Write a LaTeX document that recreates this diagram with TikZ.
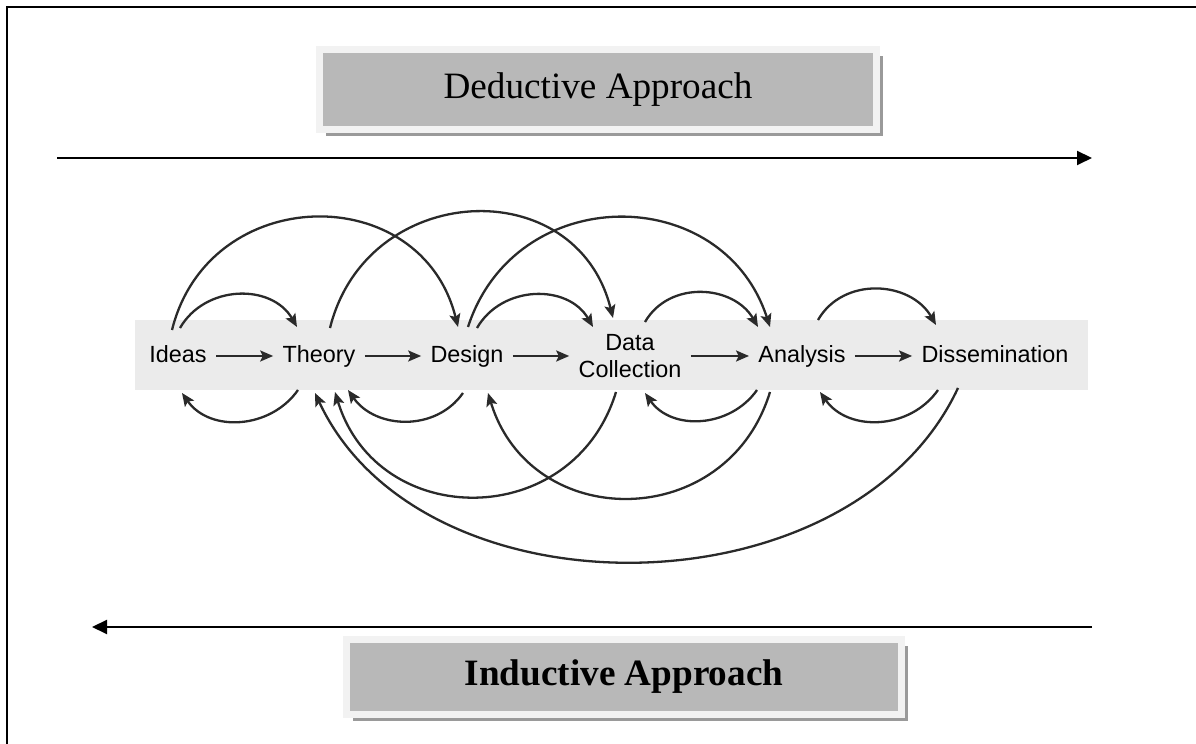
\documentclass[tikz,border=0pt]{standalone}
\usepackage{fontspec}
\setmainfont{Liberation Serif}
\newfontfamily\stagefont{Liberation Sans}
\usetikzlibrary{arrows.meta,shadows}
\definecolor{bandgray}{HTML}{EBEBEB}
\definecolor{boxgray}{HTML}{B8B8B8}
\definecolor{boxrim}{HTML}{F2F2F2}
\definecolor{boxshadow}{HTML}{9A9A9A}
\definecolor{arcgray}{HTML}{2A2A2A}

\begin{document}
\begin{tikzpicture}[x=0.5pt,y=0.5pt,
  stage/.style={font=\stagefont\fontsize{11.7}{13.5}\selectfont, text height=8.5pt, text depth=2.4pt, inner xsep=4.5pt, inner ysep=0pt},
  stagetwo/.style={font=\stagefont\fontsize{11.7}{13.5}\selectfont, align=center, inner xsep=4.5pt, inner ysep=0pt},
  approach/.style={fill=boxgray, draw=boxrim, line width=3.5pt, minimum width=278.5pt, minimum height=40pt, inner sep=0pt,
    font=\fontsize{18.6}{22}\selectfont, drop shadow={shadow xshift=3.3pt, shadow yshift=-3.3pt, fill=boxshadow, opacity=1}},
  link/.style={arcgray, line width=1.15pt, -{Stealth[length=6.5pt,width=5.5pt,inset=1.3pt]}},
  wide/.style={line width=1pt, -{Triangle[length=7.5pt,width=7pt]}}]
	\useasboundingbox (0,0) rectangle (1196,744);
	\draw[line width=1pt] (7,0) |- (1196,737);

	\node[approach] (deduct) at (598,654.5) {Deductive Approach};
	\node[approach, minimum width=277.5pt, minimum height=37.5pt,
		font=\bfseries\fontsize{18.6}{22}\selectfont] (induct) at (624,67) {Inductive Approach};

	\coordinate (dleft) at (57,586);
	\coordinate (dright) at (1092,586);
	\draw[wide] (dleft) -- (dright);
	\coordinate (iright) at (1092,117);
	\coordinate (ileft) at (92,117);
	\draw[wide] (iright) -- (ileft);

	\fill[bandgray] (135,354) rectangle (1088,424);

	\node[stage] (ideas) at (178,388) {Ideas};
	\node[stage] (theory) at (319,388) {Theory};
	\node[stage] (design) at (467,388) {Design};
	\node[stagetwo] (datacoll) at (630,388) {Data\\Collection};
	\node[stage] (analysis) at (802,388) {Analysis};
	\node[stage] (dissem) at (995,388) {Dissemination};

	\draw[link] (ideas) -- (theory);
	\draw[link] (theory) -- (design);
	\draw[link] (design) -- (datacoll);
	\draw[link] (datacoll) -- (analysis);
	\draw[link] (analysis) -- (dissem);

	\draw[link] ([shift={(2,28)}]ideas.center) to[out=60,in=120,looseness=1.1] ([shift={(-22,29)}]theory.center);
	\draw[link] ([shift={(-6,26)}]ideas.center) to[out=76,in=104,looseness=1.36] ([shift={(-9,29)}]design.center);
	\draw[link] ([shift={(11,28)}]theory.center) to[out=76,in=104,looseness=1.37] ([shift={(-17,38)}]datacoll.center);
	\draw[link] ([shift={(1,29)}]design.center) to[out=72,in=108,looseness=1.3] ([shift={(-32,29)}]analysis.center);
	\draw[link] ([shift={(10,28)}]design.center) to[out=60,in=120,looseness=1.1] ([shift={(-37,29)}]datacoll.center);
	\draw[link] ([shift={(15,34)}]datacoll.center) to[out=60,in=120,looseness=1.1] ([shift={(-44,29)}]analysis.center);
	\draw[link] ([shift={(16,36)}]analysis.center) to[out=60,in=120,looseness=1.1] ([shift={(-59,31)}]dissem.center);

	\draw[link] ([shift={(-21,-34)}]theory.center) to[out=235,in=305,looseness=1.06] ([shift={(4,-37)}]ideas.center);
	\draw[link] ([shift={(-4,-37)}]design.center) to[out=235,in=305,looseness=1.06] ([shift={(29,-34)}]theory.center);
	\draw[link] ([shift={(-45,-34)}]analysis.center) to[out=235,in=305,looseness=1.06] ([shift={(15,-37)}]datacoll.center);
	\draw[link] ([shift={(-57,-34)}]dissem.center) to[out=235,in=305,looseness=1.06] ([shift={(18,-36)}]analysis.center);
	\draw[link] ([shift={(-14,-36)}]datacoll.center) to[out=253,in=287,looseness=1.33] ([shift={(16,-36)}]theory.center);
	\draw[link] ([shift={(-32,-36)}]analysis.center) to[out=253,in=287,looseness=1.33] ([shift={(21,-37)}]design.center);
	\draw[link] ([shift={(-37,-32)}]dissem.center) to[out=245,in=295,looseness=1.0] ([shift={(-4,-37)}]theory.center);
\end{tikzpicture}
\end{document}
